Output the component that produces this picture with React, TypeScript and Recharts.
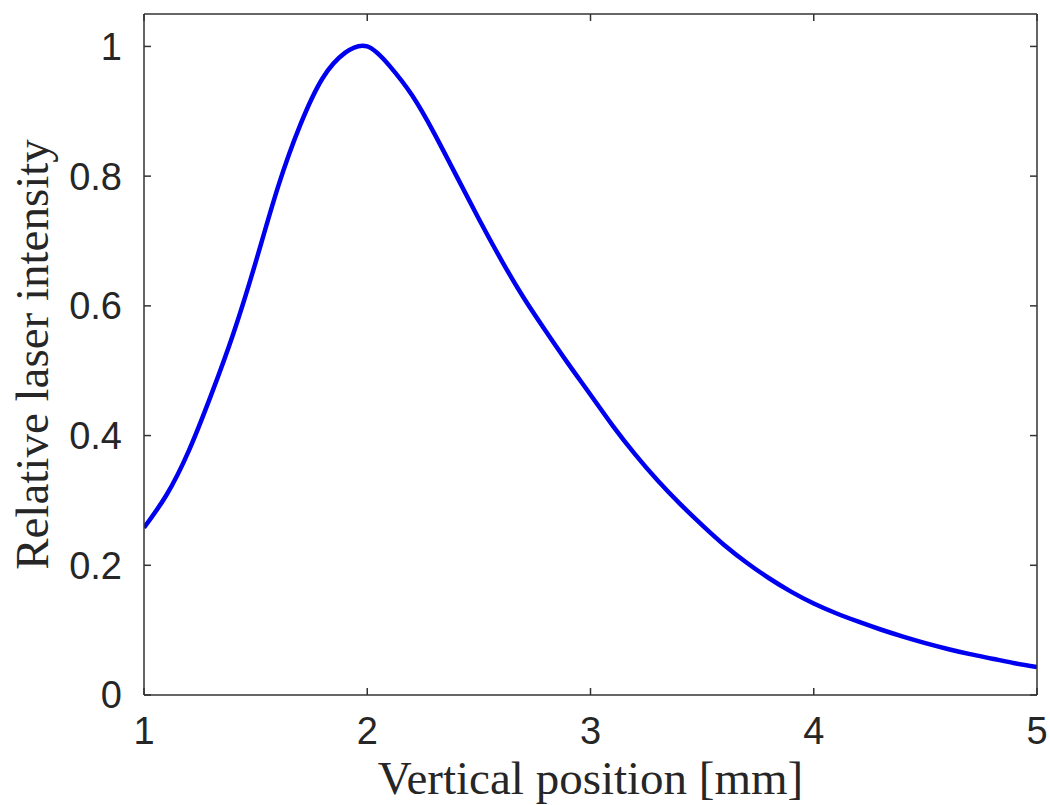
import { LineChart, Line, XAxis, YAxis } from "recharts";

// vertical position [mm]
const positions = [
  1.0, 1.1, 1.2, 1.3, 1.4, 1.5, 1.6, 1.7, 1.8, 1.9,
  2.0, 2.1, 2.2, 2.3, 2.4, 2.5, 2.6, 2.7, 2.8, 2.9,
  3.0, 3.1, 3.2, 3.3, 3.4, 3.5, 3.6, 3.7, 3.8, 3.9,
  4.0, 4.1, 4.2, 4.3, 4.4, 4.5, 4.6, 4.7, 4.8, 4.9, 5.0,
];
// relative laser intensity
const intensity = [
  0.258, 0.308, 0.376, 0.462, 0.557, 0.667, 0.783, 0.879, 0.951, 0.99,
  1.0, 0.97, 0.925, 0.866, 0.8, 0.734, 0.671, 0.613, 0.561, 0.511,
  0.463, 0.415, 0.371, 0.331, 0.295, 0.262, 0.231, 0.204, 0.18, 0.159,
  0.141, 0.126, 0.113, 0.101, 0.09, 0.08, 0.071, 0.063, 0.056, 0.049, 0.043,
];
const xTicks = [1, 2, 3, 4, 5];
const yTicks = [0, 0.2, 0.4, 0.6, 0.8, 1];

const data = positions.map((x, i) => ({ x, y: intensity[i] }));

const AXIS = "#333333";
const TEXT = "#262626";
const TICK = 7;
const tickFont = { fontFamily: "Liberation Sans, Arial, sans-serif", fontSize: 38, fill: TEXT };
const labelFont = { fontFamily: "Liberation Serif, Times New Roman, serif", fontSize: 47, fill: TEXT };

// each renderer gets (x, y) on the axis line, tickSize/tickMargin being 0
const BottomTick = ({ x, y, payload }: any) => (
  <g>
    <line x1={x} x2={x} y1={y} y2={y - TICK} stroke={AXIS} strokeWidth={1.5} />
    <text x={x} y={y + 22} dy="0.71em" textAnchor="middle" {...tickFont}>{payload.value}</text>
  </g>
);
const LeftTick = ({ x, y, payload }: any) => (
  <g>
    <line x1={x} x2={x + TICK} y1={y} y2={y} stroke={AXIS} strokeWidth={1.5} />
    <text x={x - 22} y={y} dy="0.355em" textAnchor="end" {...tickFont}>{String(payload.value)}</text>
  </g>
);
const TopTick = ({ x, y }: any) => <line x1={x} x2={x} y1={y} y2={y + TICK} stroke={AXIS} strokeWidth={1.5} />;
const RightTick = ({ x, y }: any) => <line x1={x} x2={x - TICK} y1={y} y2={y} stroke={AXIS} strokeWidth={1.5} />;

export default function App() {
  return (
    <div style={{ position: "absolute", left: 0, top: 0, background: "#fff" }}>
      <LineChart width={1050} height={805} data={data} margin={{ top: 14, right: 13, left: 0, bottom: 0 }}>
        <XAxis
          dataKey="x"
          type="number"
          domain={[1, 5]}
          ticks={xTicks}
          allowDataOverflow
          height={110}
          tickSize={0}
          tickMargin={0}
          tickLine={false}
          axisLine={{ stroke: AXIS, strokeWidth: 1.5 }}
          tick={BottomTick}
          label={{ value: "Vertical position [mm]", position: "insideBottom", offset: 11, style: { ...labelFont, textAnchor: "middle" } }}
        />
        <XAxis
          xAxisId="top"
          dataKey="x"
          orientation="top"
          mirror
          type="number"
          domain={[1, 5]}
          ticks={xTicks}
          allowDataOverflow
          tickSize={0}
          tickMargin={0}
          tickLine={false}
          tick={TopTick}
          axisLine={{ stroke: AXIS, strokeWidth: 1.5 }}
        />
        <YAxis
          type="number"
          domain={[0, 1.05]}
          ticks={yTicks}
          allowDataOverflow
          width={144}
          tickSize={0}
          tickMargin={0}
          tickLine={false}
          axisLine={{ stroke: AXIS, strokeWidth: 1.5 }}
          tick={LeftTick}
          label={{ value: "Relative laser intensity", angle: -90, position: "insideLeft", offset: 31, style: { ...labelFont, textAnchor: "middle" } }}
        />
        <YAxis
          yAxisId="right"
          orientation="right"
          mirror
          type="number"
          domain={[0, 1.05]}
          ticks={yTicks}
          allowDataOverflow
          tickSize={0}
          tickMargin={0}
          tickLine={false}
          tick={RightTick}
          axisLine={{ stroke: AXIS, strokeWidth: 1.5 }}
        />
        <Line
          type="natural"
          dataKey="y"
          stroke="#0000f0"
          strokeWidth={4.5}
          dot={false}
          isAnimationActive={false}
        />
      </LineChart>
    </div>
  );
}
